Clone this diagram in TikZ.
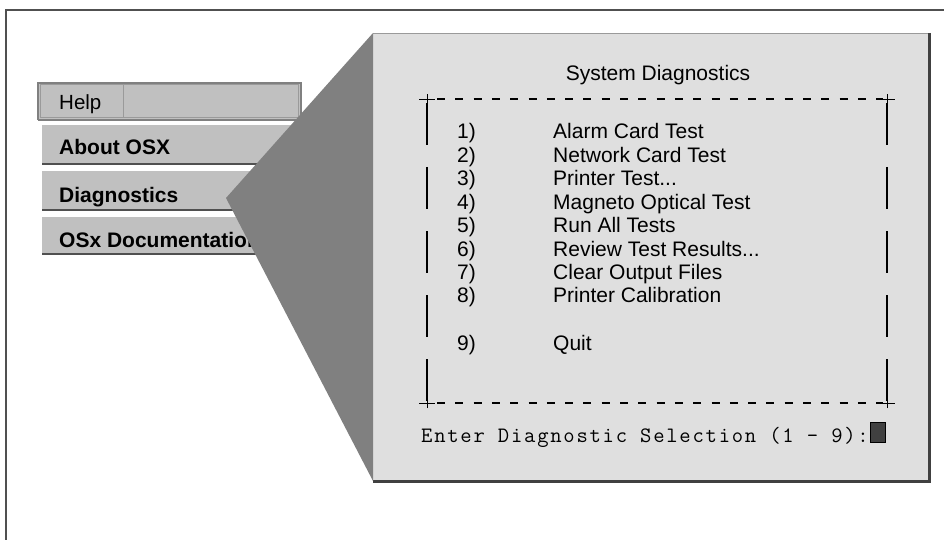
\documentclass[tikz,border=0pt]{standalone}
\usepackage{fontspec}
\setmainfont{Liberation Sans}
\newfontfamily\promptfont[LetterSpace=8.0]{Latin Modern Mono}
\definecolor{menugray}{HTML}{C0C0C0}
\definecolor{panelfill}{HTML}{DFDFDF}
\definecolor{funnelgray}{HTML}{808080}
\definecolor{framegray}{HTML}{505050}
\definecolor{shadegray}{HTML}{404040}
\definecolor{edgegray}{HTML}{9A9A9A}
\tikzset{
  menutext/.style={anchor=base west, inner sep=0pt, font=\fontsize{21}{24}\selectfont\bfseries},
  bartext/.style={anchor=base west, inner sep=0pt, font=\fontsize{20.5}{24}\selectfont},
  screentext/.style={anchor=base west, inner sep=0pt, font=\fontsize{21}{23.4}\selectfont},
  prompttext/.style={anchor=base west, inner sep=0pt, font=\promptfont\fontsize{22}{24}\selectfont},
  hdash/.style={line width=2.2pt, dash pattern=on 8pt off 10.3pt},
  vdash/.style={line width=2.8pt, dash pattern=on 42pt off 22pt},
  tick/.style={line width=0.9pt},
}
\begin{document}
\begin{tikzpicture}[x=1pt, y=-1pt]
\useasboundingbox (0,0) rectangle (944,540);
\fill[white] (0,0) rectangle (944,540);

% outer frame (top and left edges)
\draw[framegray, line width=2pt] (6,540) -- (6,10) -- (944,10);

% Help menu bar
\fill[menugray] (38,83) rectangle (301,120);
\draw[funnelgray, line width=1.2pt] (38,120) -- (38,83) -- (301,83) -- (301,120);
\draw[funnelgray, line width=2pt] (38,120) -- (301,120);
\draw[edgegray, line width=1pt] (40,85) rectangle (123,118);
\draw[edgegray, line width=1pt] (123,85) rectangle (298,118);
\node[bartext] (help) at (59,110) {Help};

% pull-down items
\foreach \top/\bot in {123/164, 169/210, 215/254}{
  \fill[menugray] (42,\top) rectangle (300,\bot);
  \draw[white, line width=1.5pt] (42,\top+0.8) -- (300,\top+0.8);
  \draw[framegray, line width=2pt] (42,\bot) -- (300,\bot);
}
\node[menutext] (about) at (59,155) {About OSX};
\node[menutext] (diag) at (59,202) {Diagnostics};
\node[menutext] (docs) at (59,247) {OSx Documentation};

% diagnostics window
\fill[panelfill] (373,33) rectangle (930,481);
\draw[edgegray, line width=1.5pt] (373,33.5) -- (929,33.5);
\draw[shadegray, line width=3pt] (929,33) -- (929,481) -- (373,481);

% zoom wedge from the Diagnostics entry to the window
\fill[funnelgray] (373,33) -- (226,198) -- (373,481) -- cycle;

% title
\node[screentext, anchor=base] (title) at (658,81) {System Diagnostics};

% dashed screen frame
\coordinate (tl) at (427,99);
\coordinate (tr) at (887,99);
\coordinate (bl) at (427,403);
\coordinate (br) at (887,403);
\draw[hdash] ([xshift=10pt]tl) -- ([xshift=-4pt]tr);
\draw[hdash] ([xshift=10pt]bl) -- ([xshift=-4pt]br);
\draw[vdash] ([yshift=-4pt]tl) -- ([yshift=2pt]bl);
\draw[vdash] ([yshift=-4pt]tr) -- ([yshift=2pt]br);
\foreach \c in {tl,tr,bl,br}{
  \draw[tick] ([xshift=-8pt]\c) -- ([xshift=8pt]\c);
  \draw[tick] ([yshift=-5pt]\c) -- ([yshift=5pt]\c);
}

% menu entries
\node[screentext] (num1) at (457,139.0) {1)};
\node[screentext] (num2) at (457,162.4) {2)};
\node[screentext] (num3) at (457,185.8) {3)};
\node[screentext] (num4) at (457,209.2) {4)};
\node[screentext] (num5) at (457,232.6) {5)};
\node[screentext] (num6) at (457,256.0) {6)};
\node[screentext] (num7) at (457,279.4) {7)};
\node[screentext] (num8) at (457,302.8) {8)};
\node[screentext] (num9) at (457,350.0) {9)};
\node[screentext] (entry1) at (553,139.0) {Alarm Card Test};
\node[screentext] (entry2) at (553,162.4) {Network Card Test};
\node[screentext] (entry3) at (553,185.8) {Printer Test...};
\node[screentext] (entry4) at (553,209.2) {Magneto Optical Test};
\node[screentext] (entry5) at (553,232.6) {Run All Tests};
\node[screentext] (entry6) at (553,256.0) {Review Test Results...};
\node[screentext] (entry7) at (553,279.4) {Clear Output Files};
\node[screentext] (entry8) at (553,302.8) {Printer Calibration};
\node[screentext] (entry9) at (553,350.0) {Quit};

% prompt line and cursor
\node[prompttext] (prompt) at (421,442) {Enter Diagnostic Selection (1 - 9):};
\draw[black, fill=shadegray, line width=0.8pt] (870.5,422.5) rectangle (885.5,442);
\end{tikzpicture}
\end{document}
